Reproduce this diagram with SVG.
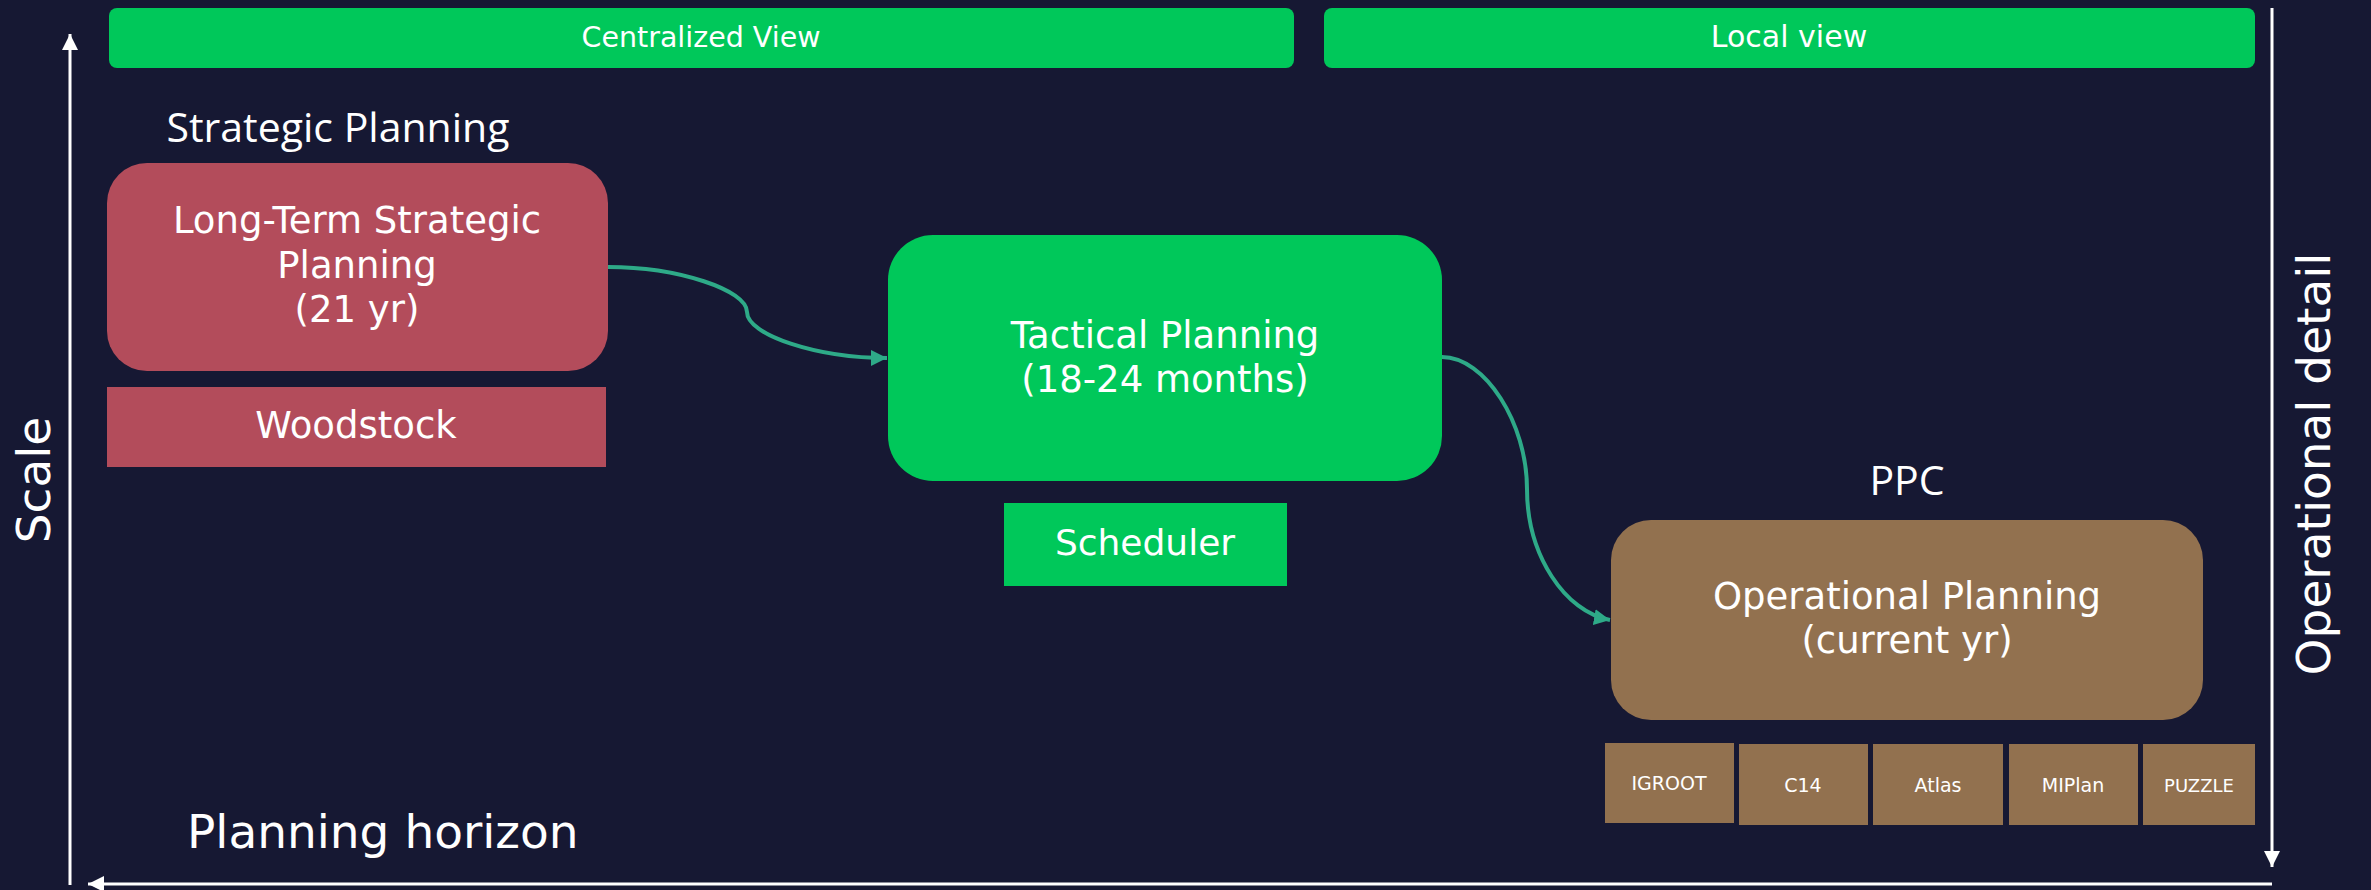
<svg xmlns="http://www.w3.org/2000/svg" width="2371" height="890" viewBox="0 0 2371 890">
<defs>
<style>
.t{font-family:"DejaVu Sans","Liberation Sans",sans-serif;fill:#ffffff;text-anchor:middle}
.h{font-family:"Open Sans","Noto Sans","Liberation Sans",sans-serif;fill:#ffffff;text-anchor:middle}
.red{fill:#b34c5b}
.grn{fill:#00c85a}
.brn{fill:#92714f}
.ax{stroke:#ffffff;stroke-width:3;fill:none}
.con{stroke:#2eaa88;stroke-width:4;fill:none}
</style>
<marker id="ah" viewBox="0 0 10 10" refX="10" refY="5" markerWidth="16" markerHeight="16" markerUnits="userSpaceOnUse" orient="auto">
<path d="M0,0 L10,5 L0,10 z" fill="#2eaa88"/>
</marker>
<marker id="wh" viewBox="0 0 10 10" refX="10" refY="5" markerWidth="16" markerHeight="16" markerUnits="userSpaceOnUse" orient="auto">
<path d="M0,0 L10,5 L0,10 z" fill="#ffffff"/>
</marker>
</defs>
<rect width="2371" height="890" fill="#161833"/>

<g id="axes">
<line class="ax" x1="70" y1="885" x2="70" y2="34" marker-end="url(#wh)"/>
<line class="ax" x1="2272" y1="884" x2="88" y2="884" marker-end="url(#wh)"/>
<line class="ax" x1="2272" y1="8" x2="2272" y2="867" marker-end="url(#wh)"/>
<text class="t" x="0" y="0" font-size="47" transform="translate(50,480) rotate(-90)">Scale</text>
<text class="t" x="0" y="0" font-size="47" transform="translate(2330,464) rotate(-90)">Operational detail</text>
<text class="t" x="187" y="848" font-size="47" style="text-anchor:start">Planning horizon</text>
</g>

<g id="centralized-view">
<rect class="grn" x="109" y="8" width="1185" height="60" rx="8"/>
<text class="t" x="701" y="47" font-size="28.5">Centralized View</text>
</g>
<g id="local-view">
<rect class="grn" x="1324" y="8" width="931" height="60" rx="8"/>
<text class="t" x="1789" y="47" font-size="30">Local view</text>
</g>

<g id="strategic-title">
<text class="h" x="338" y="142" font-size="41">Strategic Planning</text>
</g>
<g id="long-term">
<rect class="red" x="107" y="163" width="501" height="208" rx="40"/>
<text class="t" x="357" y="233" font-size="37">Long-Term Strategic</text>
<text class="t" x="357" y="278" font-size="37">Planning</text>
<text class="t" x="357" y="322" font-size="37">(21 yr)</text>
</g>
<g id="woodstock">
<rect class="red" x="107" y="387" width="499" height="80"/>
<text class="t" x="356" y="438" font-size="37">Woodstock</text>
</g>

<g id="tactical">
<rect class="grn" x="888" y="235" width="554" height="246" rx="45"/>
<text class="t" x="1165" y="348" font-size="37">Tactical Planning</text>
<text class="t" x="1165" y="392" font-size="37">(18-24 months)</text>
</g>
<g id="scheduler">
<rect class="grn" x="1004" y="503" width="283" height="83"/>
<text class="t" x="1145" y="555" font-size="36">Scheduler</text>
</g>

<g id="ppc-title">
<text class="h" x="1907" y="495" font-size="41">PPC</text>
</g>
<g id="operational">
<rect class="brn" x="1611" y="520" width="592" height="200" rx="40"/>
<text class="t" x="1907" y="609" font-size="37">Operational Planning</text>
<text class="t" x="1907" y="653" font-size="37">(current yr)</text>
</g>
<g id="igroot">
<rect class="brn" x="1605" y="743" width="129" height="80"/>
<text class="t" x="1669" y="790" font-size="19">IGROOT</text>
</g>
<g id="c14">
<rect class="brn" x="1739" y="744" width="129" height="81"/>
<text class="t" x="1803" y="792" font-size="19">C14</text>
</g>
<g id="atlas">
<rect class="brn" x="1873" y="744" width="130" height="81"/>
<text class="t" x="1938" y="792" font-size="19">Atlas</text>
</g>
<g id="miplan">
<rect class="brn" x="2009" y="744" width="129" height="81"/>
<text class="t" x="2073" y="792" font-size="19">MIPlan</text>
</g>
<g id="puzzle">
<rect class="brn" x="2143" y="744" width="112" height="81"/>
<text class="t" x="2199" y="792" font-size="18">PUZZLE</text>
</g>

<g id="connectors">
<path class="con" d="M608,267 C678,267 747,290 747,312 C747,335 817,358 887,358" marker-end="url(#ah)"/>
<path class="con" d="M1442,357 C1485,357 1527,423 1527,489 C1527,555 1565,612 1610,620" marker-end="url(#ah)"/>
</g>
</svg>
